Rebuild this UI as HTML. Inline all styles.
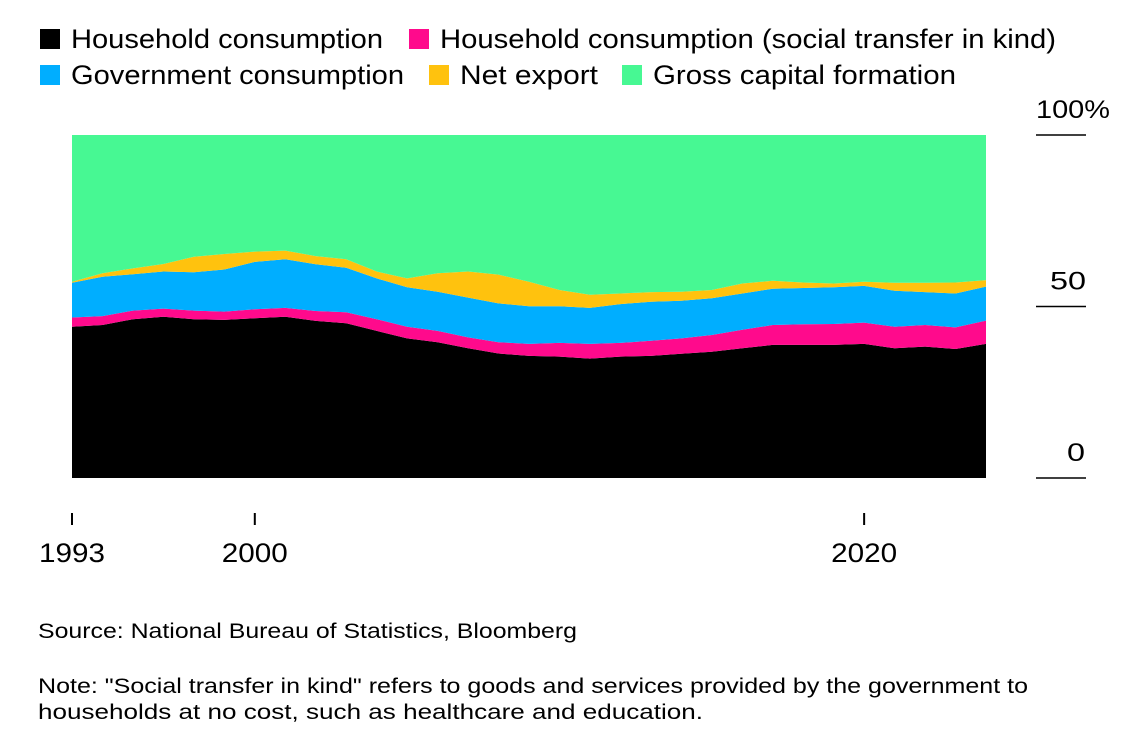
<!DOCTYPE html>
<html><head><meta charset="utf-8"><style>
html,body{margin:0;padding:0;background:#fff;}
body{width:1128px;height:748px;overflow:hidden;font-family:"Liberation Sans",Arial,sans-serif;}
svg text{font-family:"Liberation Sans",Arial,sans-serif;}
</style></head><body>
<svg id="chart" width="1128" height="748" xmlns="http://www.w3.org/2000/svg">
<g id="legend"></g>
<g id="areas"></g>
<g id="yaxis"></g>
<g id="xaxis"></g>
<text x="38" y="638" font-size="21" fill="#000" textLength="539" lengthAdjust="spacingAndGlyphs">Source: National Bureau of Statistics, Bloomberg</text>
<text x="38" y="693" font-size="21" fill="#000" textLength="990" lengthAdjust="spacingAndGlyphs">Note: "Social transfer in kind" refers to goods and services provided by the government to</text>
<text x="38" y="719" font-size="21" fill="#000" textLength="665" lengthAdjust="spacingAndGlyphs">households at no cost, such as healthcare and education.</text>
</svg>
<script>
const years = [1994,1995,1996,1997,1998,1999,2000,2001,2002,2003,2004,2005,2006,2007,2008,2009,2010,2011,2012,2013,2014,2015,2016,2017,2018,2019,2020,2021,2022,2023,2024];
const household = [44.1,44.6,46.3,47.0,46.3,46.1,46.6,47.0,45.8,45.1,42.9,40.7,39.6,37.8,36.3,35.6,35.4,34.8,35.4,35.6,36.2,36.8,37.8,38.8,38.8,38.8,39.1,37.8,38.3,37.6,39.1];
const socialTransfer = [2.7,2.6,2.5,2.4,2.5,2.4,2.6,2.6,2.9,3.2,3.4,3.4,3.3,3.2,3.3,3.5,4.0,4.3,4.0,4.4,4.5,4.9,5.4,5.8,6.0,6.1,6.2,6.3,6.3,6.3,6.8];
const government = [10.1,11.5,10.6,10.8,11.2,12.3,13.8,14.2,13.6,13.0,11.9,11.5,11.4,11.6,11.3,11.0,10.7,10.5,11.3,11.4,11.0,10.7,10.6,10.6,10.6,10.7,10.7,10.5,9.6,9.9,9.9];
const netExport = [0.3,1.0,1.7,2.2,4.5,4.5,3.0,2.5,2.4,2.5,2.0,2.6,5.4,7.6,8.4,7.1,4.7,3.8,3.1,2.8,2.6,2.4,2.9,2.3,1.6,1.1,1.2,2.3,2.7,3.2,1.9];
const capitalFormation = household.map((v,i)=>100-v-socialTransfer[i]-government[i]-netExport[i]);
const seriesNames = ["Household consumption","Household consumption (social transfer in kind)","Government consumption","Net export","Gross capital formation"];
const yTicks = [0,50,100];
const yTickLabels = ["0","50","100%"];
const xTickYears = [1994,2000,2020];
const xTickLabels = ["1993","2000","2020"];

const NS="http://www.w3.org/2000/svg";
const colors=["#000000","#ff0a8c","#00aeff","#ffc20e","#47f893"];
const keys=["household","social-transfer","government","net-export","gross-capital-formation"];
const X0=72,X1=986,Y0=478,Y1=135;
const xs=y=>X0+(y-years[0])/(years[years.length-1]-years[0])*(X1-X0);
const ys=v=>Y0-v/100*(Y0-Y1);
function mk(tag,attrs,parent){const e=document.createElementNS(NS,tag);for(const k in attrs)e.setAttribute(k,attrs[k]);parent.appendChild(e);return e;}

const series=[household,socialTransfer,government,netExport,capitalFormation];
const areas=document.getElementById('areas');
let base=years.map(()=>0);
series.forEach((s,si)=>{
  const top=base.map((b,i)=>b+s[i]);
  let d="M"+years.map((y,i)=>xs(y).toFixed(1)+","+ys(top[i]).toFixed(1)).join("L");
  for(let i=years.length-1;i>=0;i--)d+="L"+xs(years[i]).toFixed(1)+","+ys(base[i]).toFixed(1);
  d+="Z";
  const p=mk('path',{d:d,fill:colors[si]},areas);
  
  
  base=top;
});

const ya=document.getElementById('yaxis');
const yLabelX=[1067,1050,1036];
const yLabelW=[18,36,74];
yTicks.forEach((t,i)=>{
  const l=mk('line',{x1:1036,x2:1086,y1:ys(t),y2:ys(t),stroke:"#000","stroke-width":1.5},ya);
  
  
  const tx=mk('text',{x:yLabelX[i],y:ys(t)-17,"font-size":25,fill:"#000",textLength:yLabelW[i],lengthAdjust:"spacingAndGlyphs"},ya);
  tx.textContent=yTickLabels[i];
  
  
});

const xa=document.getElementById('xaxis');
xTickYears.forEach((y,i)=>{
  const l=mk('line',{x1:xs(y),x2:xs(y),y1:513,y2:525,stroke:"#000","stroke-width":2},xa);
  
  
  const tx=mk('text',{x:xs(y),y:562,"text-anchor":"middle","font-size":27,fill:"#000",textLength:66,lengthAdjust:"spacingAndGlyphs"},xa);
  tx.textContent=xTickLabels[i];
  
  
});

const lg=document.getElementById('legend');
const legPos=[[40,29],[409,29],[40,65],[429,65],[622,65]];
const legW=[312,616,333,138,303];
seriesNames.forEach((n,i)=>{
  const g=mk('g',{},lg);
  
  
  mk('rect',{x:legPos[i][0],y:legPos[i][1],width:20,height:20,fill:colors[i]},g);
  const t=mk('text',{x:legPos[i][0]+31,y:legPos[i][1]+19,"font-size":27,fill:"#000",textLength:legW[i],lengthAdjust:"spacingAndGlyphs"},g);
  t.textContent=n;
});
</script>
</body></html>
